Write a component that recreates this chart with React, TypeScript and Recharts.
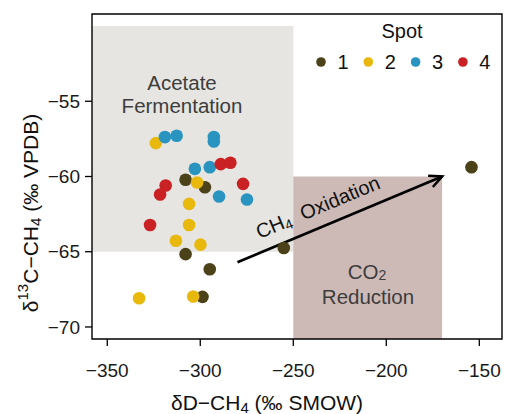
import { ScatterChart, Scatter, XAxis, YAxis, ReferenceArea, ReferenceLine } from "recharts";

// Spot 1..4: dD-CH4 (x) vs d13C-CH4 (y)
const spot1 = [
  { x: -307.9, y: -60.22 },
  { x: -297.5, y: -60.71 },
  { x: -307.9, y: -65.16 },
  { x: -294.9, y: -66.16 },
  { x: -298.8, y: -68.0 },
  { x: -255.1, y: -64.75 },
  { x: -154.2, y: -59.38 },
];
const spot2 = [
  { x: -323.9, y: -57.78 },
  { x: -301.7, y: -60.4 },
  { x: -306.0, y: -61.82 },
  { x: -306.0, y: -63.22 },
  { x: -313.1, y: -64.27 },
  { x: -299.9, y: -64.53 },
  { x: -332.9, y: -68.09 },
  { x: -303.8, y: -67.98 },
];
const spot3 = [
  { x: -319.0, y: -57.38 },
  { x: -312.7, y: -57.29 },
  { x: -292.7, y: -57.38 },
  { x: -292.7, y: -57.67 },
  { x: -302.9, y: -59.49 },
  { x: -294.9, y: -59.38 },
  { x: -289.9, y: -61.33 },
  { x: -274.9, y: -61.53 },
];
const spot4 = [
  { x: -289.0, y: -59.18 },
  { x: -283.8, y: -59.09 },
  { x: -318.6, y: -60.6 },
  { x: -321.6, y: -61.2 },
  { x: -277.0, y: -60.49 },
  { x: -327.0, y: -63.22 },
];

const spotNames = ["1", "2", "3", "4"];
const spotColors = ["#4b4219", "#e8b90c", "#2894bf", "#c92124"];

const xTicks = [-350, -300, -250, -200, -150];
const yTicks = [-70, -65, -60, -55];
const xDomain = [-358.2, -137.8];
const yDomain = [-70.8, -49.2];

// process boxes and the oxidation arrow
const acetateBox = { x1: -358.2, x2: -250, y1: -65, y2: -50 };
const co2Box = { x1: -250, x2: -170, y1: -70.8, y2: -60 };
const arrowStart = { x: -280, y: -65.7 };
const arrowEnd = { x: -170, y: -60 };

const FONT = "'Liberation Sans', Arial, sans-serif";
const minus = (v: number) => String(v).replace("-", "\u2212");

const dot = (color: string) => (p: any) => <circle cx={p.cx} cy={p.cy} r={6.3} fill={color} />;

const ArrowShape = (p: any) => {
  const { x1, y1, x2, y2 } = p;
  const ang = Math.atan2(y2 - y1, x2 - x1);
  const deg = (ang * 180) / Math.PI;
  const h = 14;
  const a1 = ang + Math.PI - 0.45;
  const a2 = ang + Math.PI + 0.45;
  const dx = x2 - x1, dy = y2 - y1;
  const len = Math.sqrt(dx * dx + dy * dy);
  const ux = dx / len, uy = dy / len;
  const t = 0.43;
  const cx = x1 + dx * t + uy * 20;
  const cy = y1 + dy * t - ux * 20;
  return (
    <g>
      <line x1={x1} y1={y1} x2={x2} y2={y2} stroke="#000" strokeWidth={2.6} />
      <polyline
        points={`${x2 + h * Math.cos(a1)},${y2 + h * Math.sin(a1)} ${x2},${y2} ${x2 + h * Math.cos(a2)},${y2 + h * Math.sin(a2)}`}
        fill="none"
        stroke="#000"
        strokeWidth={2.6}
      />
      <text
        x={cx}
        y={cy}
        transform={`rotate(${deg} ${cx} ${cy})`}
        textAnchor="middle"
        dominantBaseline="central"
        fontFamily={FONT}
        fontSize={20}
        fill="#111"
        style={{ whiteSpace: "pre" }}
      >
        CH<tspan dy={5} fontSize={14}>4</tspan>
        <tspan dy={-5}>{"  Oxidation"}</tspan>
      </text>
    </g>
  );
};

const LegendBox = () => (
  <svg width={210} height={64} style={{ position: "absolute", left: 296, top: 14 }}>
    <text x={106} y={17} textAnchor="middle" dominantBaseline="central" fontFamily={FONT} fontSize={20} fill="#111">
      Spot
    </text>
    {spotNames.map((n, i) => (
      <g key={n}>
        <circle cx={25 + i * 47.3} cy={48} r={4.8} fill={spotColors[i]} />
        <text x={47 + i * 47.3} y={48} textAnchor="middle" dominantBaseline="central" fontFamily={FONT} fontSize={20} fill="#111">
          {n}
        </text>
      </g>
    ))}
  </svg>
);

export default function App() {
  return (
    <div style={{ position: "absolute", left: 0, top: 0, width: 506, height: 414, background: "#fff" }}>
      <ScatterChart width={506} height={414} margin={{ top: 14, right: 4, bottom: 0, left: 0 }}>
        <XAxis
          type="number"
          dataKey="x"
          domain={xDomain}
          ticks={xTicks}
          allowDataOverflow
          axisLine={false}
          tickSize={7}
          tickMargin={18}
          height={75}
          tickLine={{ stroke: "#000", strokeWidth: 1.3 }}
          tick={{ fontSize: 19, fill: "#1a1a1a", fontFamily: FONT }}
          tickFormatter={minus}
          label={{
            content: () => (
              <text x={267} y={402} textAnchor="middle" dominantBaseline="central" fontFamily={FONT} fontSize={21} fill="#111">
                δD−CH<tspan dy={5} fontSize={15}>4</tspan>
                <tspan dy={-5}> (‰ SMOW)</tspan>
              </text>
            ),
          }}
        />
        <YAxis
          type="number"
          dataKey="y"
          domain={yDomain}
          ticks={yTicks}
          allowDataOverflow
          axisLine={false}
          width={92}
          tickSize={7}
          tickMargin={5}
          tickLine={{ stroke: "#000", strokeWidth: 1.3 }}
          tick={{ fontSize: 19, fill: "#1a1a1a", fontFamily: FONT }}
          tickFormatter={minus}
          label={{
            content: () => (
              <text
                x={30}
                y={213}
                transform="rotate(-90 30 213)"
                textAnchor="middle"
                dominantBaseline="central"
                fontFamily={FONT}
                fontSize={21}
                fill="#111"
              >
                δ<tspan dy={-8} fontSize={15}>13</tspan>
                <tspan dy={8}>C−CH</tspan>
                <tspan dy={5} fontSize={15}>4</tspan>
                <tspan dy={-5}> (‰ VPDB)</tspan>
              </text>
            ),
          }}
        />
        <ReferenceArea {...acetateBox} fill="#e6e5e1" fillOpacity={1} stroke="none" ifOverflow="hidden" />
        <ReferenceArea {...co2Box} fill="#cdbab7" fillOpacity={1} stroke="none" ifOverflow="hidden" />
        <ReferenceArea
          x1={xDomain[0]}
          x2={xDomain[1]}
          y1={yDomain[0]}
          y2={yDomain[1]}
          fill="none"
          stroke="#000"
          strokeWidth={1.4}
          ifOverflow="visible"
          label={{
            content: () => (
              <g fontFamily={FONT} fontSize={20.5} fill="#3d3d3d" textAnchor="middle">
                <text x={182} y={82} dominantBaseline="central">Acetate</text>
                <text x={182} y={105} dominantBaseline="central">Fermentation</text>
                <text x={367} y={271} dominantBaseline="central">
                  CO<tspan dy={4} fontSize={14}>2</tspan>
                </text>
                <text x={368} y={296} dominantBaseline="central">Reduction</text>
              </g>
            ),
          }}
        />
        <ReferenceLine segment={[arrowStart, arrowEnd]} ifOverflow="visible" shape={ArrowShape} />
        <Scatter name="1" data={spot1} isAnimationActive={false} shape={dot(spotColors[0])} />
        <Scatter name="2" data={spot2} isAnimationActive={false} shape={dot(spotColors[1])} />
        <Scatter name="3" data={spot3} isAnimationActive={false} shape={dot(spotColors[2])} />
        <Scatter name="4" data={spot4} isAnimationActive={false} shape={dot(spotColors[3])} />
      </ScatterChart>
      <LegendBox />
    </div>
  );
}
